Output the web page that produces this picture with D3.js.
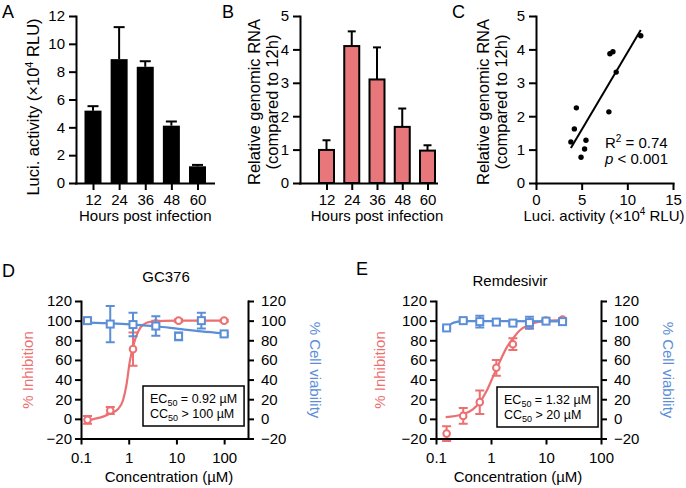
<!DOCTYPE html>
<html>
<head>
<meta charset="utf-8">
<script src="https://cdn.jsdelivr.net/npm/d3@7"></script>
<style>
body { margin: 0; background: #fff; }
svg { font-family: "Liberation Sans", Arial, sans-serif; }
</style>
</head>
<body>
<svg id="fig" width="686" height="488"></svg>
<script>
// ---- data ----
var hours = ["12", "24", "36", "48", "60"];
var luciMean = [5.2, 8.9, 8.35, 4.12, 1.2];
var luciErr = [0.32, 2.3, 0.4, 0.3, 0.1];
var rnaMean = [0.99, 4.1, 3.1, 1.68, 0.97];
var rnaErr = [0.29, 0.44, 0.96, 0.55, 0.16];

var corrLuci = [3.82, 4.2, 4.42, 4.93, 5.32, 5.47, 7.98, 8.09, 8.42, 8.78, 11.47];
var corrRna = [1.23, 1.62, 2.25, 0.77, 1.02, 1.28, 2.13, 3.87, 3.93, 3.32, 4.41];
var corrFitX = [3.82, 11.47];
var corrFitY = [1.05, 4.58];

var gcConc = [0.137, 0.41, 1.23, 3.7, 11.1, 33.3, 100];
var gcInhib = [-1, 8.5, 71, 97, 100, 100, 100];
var gcInhibErr = [4, 3.5, 17, 3, 1.5, 1.5, 1];
var gcViab = [100, 96.5, 96, 94.5, 84, 100, 86.5];
var gcViabErr = [3, 18.5, 12, 10, 4, 8, 1.5];
var gcInhibFitX = [0.137, 0.19, 0.3, 0.41, 0.6, 0.76, 0.9, 1.05, 1.24, 1.58, 2.02, 3.0, 10, 100];
var gcInhibFitY = [-1.5, 0, 2.5, 5.5, 10, 19, 35, 58, 74, 89, 96, 99, 100, 100];
var gcViabFitX = [0.137, 0.41, 1.23, 3.7, 11.1, 33.3, 100];
var gcViabFitY = [98, 97.2, 96, 94.3, 91.6, 89, 87];

var rdvConc = [0.156, 0.3125, 0.625, 1.25, 2.5, 5, 10, 20];
var rdvInhib = [-15, 3, 17, 52, 76, 95, 100, 101];
var rdvInhibErr = [7.5, 8, 12, 8, 6, 3, 1, 1];
var rdvViab = [92.6, 100, 99, 98.5, 97.5, 98, 99.5, 99];
var rdvViabErr = [1, 1.5, 6, 3, 1, 6, 1, 1.5];
var rdvInhibFitX = [0.15, 0.3, 0.474, 0.61, 0.826, 1.09, 1.44, 1.9, 2.51, 3.32, 5.03, 8.77, 19.4];
var rdvInhibFitY = [1.7, 4.4, 10, 16, 28, 43, 58, 72, 82, 90, 96, 99.5, 100.5];
var rdvViabFitX = [0.156, 0.192, 0.25, 0.3125, 1, 20];
var rdvViabFitY = [92.6, 97, 99, 99.6, 99.5, 99.3];

var doseTicks = [0.1, 1, 10, 100];
var pctTicks = [-20, 0, 20, 40, 60, 80, 100, 120];

var RED = "#ec6f72", BLUE = "#5b8ed6", BARRED = "#e8777b";

var svg = d3.select("#fig");

function fixAxis(g) {
  g.attr("font-family", null).attr("font-size", 15);
  g.selectAll(".domain").attr("stroke-width", 2).attr("stroke-linecap", "square");
  g.selectAll(".tick line").attr("stroke-width", 2);
  g.selectAll(".tick text").attr("fill", "#000");
}

function letter(txt, x, y) {
  svg.append("text").attr("x", x).attr("y", y).attr("font-size", 18).text(txt);
}

function zip(a, b) { return a.map(function(v, i) { return [v, b[i]]; }); }

// ---- bar panels (A, B) ----
function barPanel(o) {
  var x = d3.scalePoint().domain(hours).range(o.xr);
  var y = d3.scaleLinear().domain([0, o.ymax]).range([183, 16]);
  var g = svg.append("g");
  var data = o.mean.map(function(m, i) { return {h: hours[i], m: m, e: o.err[i]}; });

  // error bars (upper only)
  g.selectAll(".eb").data(data).enter().append("line")
      .attr("x1", function(d) { return x(d.h); }).attr("x2", function(d) { return x(d.h); })
      .attr("y1", function(d) { return y(d.m); }).attr("y2", function(d) { return y(d.m + d.e); })
      .attr("stroke", "#000").attr("stroke-width", 2);
  g.selectAll(".cap").data(data).enter().append("line")
      .attr("x1", function(d) { return x(d.h) - o.cap / 2; }).attr("x2", function(d) { return x(d.h) + o.cap / 2; })
      .attr("y1", function(d) { return y(d.m + d.e); }).attr("y2", function(d) { return y(d.m + d.e); })
      .attr("stroke", "#000").attr("stroke-width", 2);

  g.selectAll("rect").data(data).enter().append("rect")
      .attr("x", function(d) { return x(d.h) - o.bw / 2; })
      .attr("width", o.bw)
      .attr("y", function(d) { return y(d.m); })
      .attr("height", function(d) { return y(0) - y(d.m); })
      .attr("fill", o.fill)
      .attr("stroke", o.stroke || "none").attr("stroke-width", 2);

  var ya = g.append("g").attr("transform", "translate(" + o.x0 + ",0)")
      .call(d3.axisLeft(y).ticks(o.ymax === 12 ? 6 : 5).tickSize(7).tickSizeOuter(0).tickPadding(4));
  fixAxis(ya);

  var xa = g.append("g").attr("transform", "translate(0,183)")
      .call(d3.axisBottom(x).tickSize(7).tickPadding(4));
  xa.select(".domain").remove();
  fixAxis(xa);
  g.append("line").attr("x1", o.x0 - 1).attr("x2", o.x1).attr("y1", 183.5).attr("y2", 183.5)
      .attr("stroke", "#000").attr("stroke-width", 2);

  g.append("text").attr("x", x("36")).attr("y", 221).attr("text-anchor", "middle")
      .attr("font-size", 15).text("Hours post infection");
}

barPanel({xr: [93, 197.5], x0: 76, x1: 215, ymax: 12, mean: luciMean, err: luciErr,
          bw: 17, cap: 11, fill: "#000"});
svg.append("text").attr("transform", "translate(39,107) rotate(-90)").attr("text-anchor", "middle")
    .attr("font-size", 16.5)
    .html('Luci. activity (×10<tspan font-size="11" dy="-6.5">4</tspan><tspan dy="6.5"> RLU)</tspan>');
letter("A", 2, 18);

barPanel({xr: [326.5, 427.5], x0: 300, x1: 438, ymax: 5, mean: rnaMean, err: rnaErr,
          bw: 15, cap: 8, fill: BARRED, stroke: "#000"});
svg.append("text").attr("transform", "translate(260,102) rotate(-90)").attr("text-anchor", "middle")
    .attr("font-size", 16.5).text("Relative genomic RNA");
svg.append("text").attr("transform", "translate(278,102) rotate(-90)").attr("text-anchor", "middle")
    .attr("font-size", 16.5).text("(compared to 12h)");
letter("B", 222, 18);

// ---- scatter panel (C) ----
(function() {
  var x = d3.scaleLinear().domain([0, 15]).range([536, 673]);
  var y = d3.scaleLinear().domain([0, 5]).range([183, 16]);
  var g = svg.append("g");

  g.append("line")
      .attr("x1", x(corrFitX[0])).attr("y1", y(corrFitY[0]))
      .attr("x2", x(corrFitX[1])).attr("y2", y(corrFitY[1]))
      .attr("stroke", "#000").attr("stroke-width", 2);
  g.selectAll("circle").data(zip(corrLuci, corrRna)).enter().append("circle")
      .attr("cx", function(d) { return x(d[0]); }).attr("cy", function(d) { return y(d[1]); })
      .attr("r", 2.7).attr("fill", "#000");

  var ya = g.append("g").attr("transform", "translate(536,0)")
      .call(d3.axisLeft(y).ticks(5).tickSize(7).tickSizeOuter(0).tickPadding(4));
  fixAxis(ya);
  var xa = g.append("g").attr("transform", "translate(0,183)")
      .call(d3.axisBottom(x).tickValues([0, 5, 10, 15]).tickSize(7).tickSizeOuter(0).tickPadding(4));
  fixAxis(xa);

  g.append("text").attr("x", 604).attr("y", 221).attr("text-anchor", "middle").attr("font-size", 15)
      .html('Luci. activity (×10<tspan font-size="10" dy="-6">4</tspan><tspan dy="6"> RLU)</tspan>');
  g.append("text").attr("transform", "translate(489,102) rotate(-90)").attr("text-anchor", "middle")
      .attr("font-size", 16.5).text("Relative genomic RNA");
  g.append("text").attr("transform", "translate(507,102) rotate(-90)").attr("text-anchor", "middle")
      .attr("font-size", 16.5).text("(compared to 12h)");
  g.append("text").attr("x", 605).attr("y", 148).attr("font-size", 15)
      .html('R<tspan font-size="10" dy="-6">2</tspan><tspan dy="6"> = 0.74</tspan>');
  g.append("text").attr("x", 605).attr("y", 164).attr("font-size", 15)
      .html('<tspan font-style="italic">p</tspan> &lt; 0.001');
})();
letter("C", 452, 18);

// ---- dose-response panels (D, E) ----
function dosePanel(o) {
  var x = d3.scaleLog().domain(o.dom).range(o.xr);
  var y = d3.scaleLinear().domain([-20, 120]).range([438.5, 301]);
  var g = svg.append("g");
  var line = d3.line().x(function(d) { return x(d[0]); }).y(function(d) { return y(d[1]); })
      .curve(d3.curveMonotoneX);

  function series(conc, val, err, fx, fy, col, shape) {
    var pts = conc.map(function(c, i) { return {c: c, v: val[i], e: err[i]}; });
    g.selectAll(null).data(pts).enter().append("path")
        .attr("d", function(d) {
          var xx = x(d.c), y1 = y(d.v - d.e), y2 = y(d.v + d.e);
          return "M" + xx + "," + y1 + "V" + y2 +
                 "M" + (xx - 4.5) + "," + y1 + "h9" +
                 "M" + (xx - 4.5) + "," + y2 + "h9";
        })
        .attr("stroke", col).attr("stroke-width", 2).attr("fill", "none");
    g.append("path").datum(zip(fx, fy)).attr("d", line)
        .attr("stroke", col).attr("stroke-width", 2.2).attr("fill", "none");
    if (shape === "circle") {
      g.selectAll(null).data(pts).enter().append("circle")
          .attr("cx", function(d) { return x(d.c); }).attr("cy", function(d) { return y(d.v); })
          .attr("r", 3.3).attr("fill", "#fff").attr("stroke", col).attr("stroke-width", 2);
    } else {
      g.selectAll(null).data(pts).enter().append("rect")
          .attr("x", function(d) { return x(d.c) - 3.5; }).attr("y", function(d) { return y(d.v) - 3.5; })
          .attr("width", 7).attr("height", 7)
          .attr("fill", "#fff").attr("stroke", col).attr("stroke-width", 2);
    }
  }
  series(o.conc, o.inhib, o.inhibErr, o.ifx, o.ify, RED, "circle");
  series(o.conc, o.viab, o.viabErr, o.vfx, o.vfy, BLUE, "square");

  var la = g.append("g").attr("transform", "translate(" + o.xr[0] + ",0)")
      .call(d3.axisLeft(y).tickValues(pctTicks).tickSize(6).tickSizeOuter(0).tickPadding(3));
  fixAxis(la);
  var ra = g.append("g").attr("transform", "translate(" + o.xr[1] + ",0)")
      .call(d3.axisRight(y).tickValues(pctTicks).tickSize(6).tickSizeOuter(0).tickPadding(7));
  fixAxis(ra);
  var xa = g.append("g").attr("transform", "translate(0,438.5)")
      .call(d3.axisBottom(x).tickValues(doseTicks).tickFormat(function(d) { return String(d); })
            .tickSize(6).tickSizeOuter(0).tickPadding(8));
  fixAxis(xa);

  g.append("text").attr("x", o.titleX).attr("y", o.titleY).attr("text-anchor", "middle")
      .attr("font-size", 15).text(o.title);
  g.append("text").attr("x", o.xlabX).attr("y", 482).attr("text-anchor", "middle")
      .attr("font-size", 15).text("Concentration (µM)");
  g.append("text").attr("transform", "translate(" + o.ly + ",370) rotate(-90)").attr("text-anchor", "middle")
      .attr("font-size", 15).attr("fill", RED).text("% Inhibition");
  g.append("text").attr("transform", "translate(" + o.ry + ",370) rotate(90)").attr("text-anchor", "middle")
      .attr("font-size", 15).attr("fill", BLUE).text("% Cell viability");

  // EC50 / CC50 box
  var box = g.append("g");
  var rect = box.append("rect").attr("fill", "#fff").attr("stroke", "#000").attr("stroke-width", 1.5);
  var t = box.append("g").attr("font-size", 12.5);
  t.append("text").attr("x", o.box[0] + 7).attr("y", o.box[1] + 17)
      .html('EC<tspan font-size="9" dy="3">50</tspan><tspan dy="-3"> = ' + o.ec + ' µM</tspan>');
  t.append("text").attr("x", o.box[0] + 7).attr("y", o.box[1] + 32)
      .html('CC<tspan font-size="9" dy="3">50</tspan><tspan dy="-3"> &gt; ' + o.cc + ' µM</tspan>');
  var bb = t.node().getBBox();
  rect.attr("x", o.box[0]).attr("y", o.box[1]).attr("width", bb.x + bb.width + 7 - o.box[0]).attr("height", 40);
}

dosePanel({dom: [0.1, Math.pow(10, 2.5)], xr: [81, 248], conc: gcConc,
           inhib: gcInhib, inhibErr: gcInhibErr, viab: gcViab, viabErr: gcViabErr,
           ifx: gcInhibFitX, ify: gcInhibFitY, vfx: gcViabFitX, vfy: gcViabFitY,
           title: "GC376", titleX: 166, titleY: 282, xlabX: 169, ly: 33, ry: 310,
           box: [143, 386], ec: "0.92", cc: "100"});
letter("D", 2, 277);

dosePanel({dom: [0.1, 100], xr: [436, 601], conc: rdvConc,
           inhib: rdvInhib, inhibErr: rdvInhibErr, viab: rdvViab, viabErr: rdvViabErr,
           ifx: rdvInhibFitX, ify: rdvInhibFitY, vfx: rdvViabFitX, vfy: rdvViabFitY,
           title: "Remdesivir", titleX: 510, titleY: 286, xlabX: 518, ly: 385, ry: 663,
           box: [497, 387], ec: "1.32", cc: "20"});
letter("E", 356, 275);
</script>
</body>
</html>
